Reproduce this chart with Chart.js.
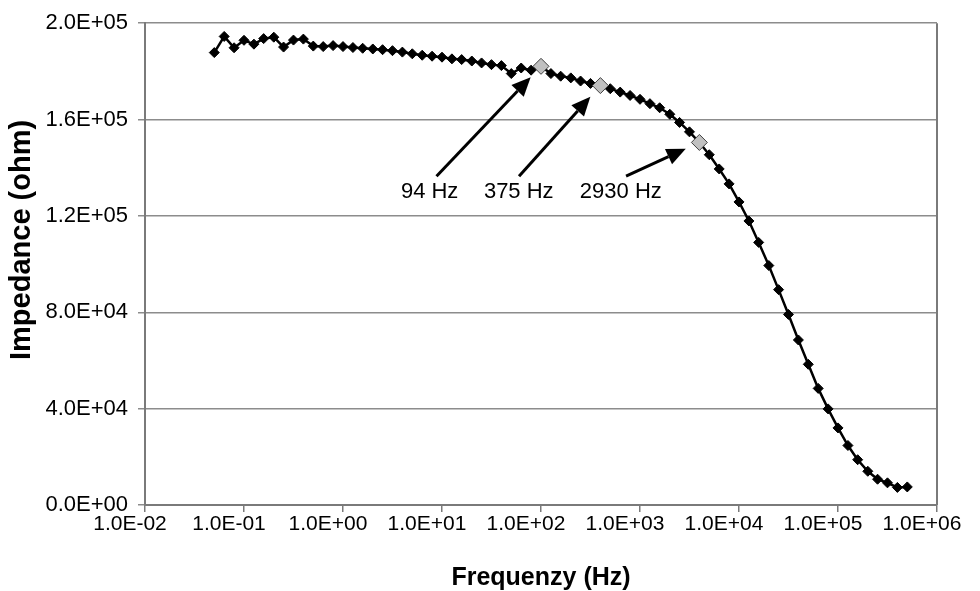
<!DOCTYPE html>
<html>
<head>
<meta charset="utf-8">
<script src="https://cdn.jsdelivr.net/npm/chart.js@4.4.0/dist/chart.umd.min.js"></script>
<style>
  html, body { margin: 0; padding: 0; background: #fff; }
  #wrap { width: 980px; height: 591px; }
</style>
</head>
<body>
<div id="wrap"><canvas id="chart" width="980" height="591"></canvas></div>
<script>
// frequency in Hz, ten points per decade
const frequency = [
  0.0501, 0.0631, 0.0794,
  0.1, 0.126, 0.158, 0.2, 0.251, 0.316, 0.398, 0.501, 0.631, 0.794,
  1, 1.26, 1.58, 2, 2.51, 3.16, 3.98, 5.01, 6.31, 7.94,
  10, 12.6, 15.8, 20, 25.1, 31.6, 39.8, 50.1, 63.1, 79.4,
  100, 126, 158, 200, 251, 316, 398, 501, 631, 794,
  1000, 1260, 1580, 2000, 2510, 3160, 3980, 5010, 6310, 7940,
  10000, 12600, 15800, 20000, 25100, 31600, 39800, 50100, 63100, 79400,
  100000, 126000, 158000, 200000, 251000, 316000, 398000, 501000
];

// impedance in ohm
const impedance = [
  187800, 194500, 189800,
  192900, 191300, 193600, 194200, 190100, 193000, 193400, 190500, 190300, 190700,
  190300, 189900, 189600, 189300, 189000, 188600, 188000, 187300, 186700, 186300,
  185900, 185200, 184900, 184300, 183500, 182800, 182400, 179100, 181400, 180500,
  182100, 179100, 178000, 177300, 176000, 175000, 174100, 172800, 171400, 170000,
  168400, 166600, 164900, 162200, 158800, 154900, 150500, 145400, 139500, 133300,
  125800, 117900, 109000, 99400, 89400, 79100, 68500, 58400, 48400, 39900,
  32000, 24700, 18800, 14000, 10700, 9200, 7300, 7500
];

// highlighted measurement points (grey diamonds)
const highlightFreq = [100, 398, 3980];

// annotation labels: text, where the arrow starts, where the text sits
const noteText = ['94 Hz', '375 Hz', '2930 Hz'];
const noteTailFreq = [8.8, 60, 723];
const noteTextFreq = [7.5, 59.6, 640];
const noteTailZ = 136500;
const noteTextZ = 129900;

const xTicks = [0.01, 0.1, 1, 10, 100, 1000, 10000, 100000, 1000000];
const yTicks = [0, 40000, 80000, 120000, 160000, 200000];

const FONT = "'Liberation Sans', Arial, sans-serif";

function sci(v) {
  const parts = Number(v).toExponential(1).split('e');
  const e = parseInt(parts[1], 10);
  const sign = e < 0 ? '-' : '+';
  return parts[0] + 'E' + sign + String(Math.abs(e)).padStart(2, '0');
}

const mainPoints = frequency.map((f, i) => ({ x: f, y: impedance[i] }));
const greyPoints = highlightFreq.map(f => ({ x: f, y: impedance[frequency.indexOf(f)] }));

// right-hand frame line and the arrow annotations
const extras = {
  id: 'extras',
  afterDatasetsDraw(chart) {
    const ctx = chart.ctx;
    const area = chart.chartArea;
    const xs = chart.scales.x, ys = chart.scales.y;

    ctx.save();
    ctx.strokeStyle = '#7a7a7a';
    ctx.lineWidth = 2;
    ctx.beginPath();
    ctx.moveTo(area.right, area.top);
    ctx.lineTo(area.right, area.bottom);
    ctx.stroke();

    ctx.fillStyle = '#000';
    ctx.strokeStyle = '#000';
    ctx.font = '22px ' + FONT;
    ctx.textAlign = 'center';
    ctx.textBaseline = 'middle';
    highlightFreq.forEach((f, i) => {
      const tx = xs.getPixelForValue(f);
      const ty = ys.getPixelForValue(impedance[frequency.indexOf(f)]);
      const sx = xs.getPixelForValue(noteTailFreq[i]);
      const sy = ys.getPixelForValue(noteTailZ);
      const dx = sx - tx, dy = sy - ty;
      const len = Math.hypot(dx, dy);
      const ux = dx / len, uy = dy / len;
      const tipX = tx + ux * 15, tipY = ty + uy * 15;
      const baseX = tipX + ux * 19, baseY = tipY + uy * 19;
      ctx.lineWidth = 3;
      ctx.beginPath();
      ctx.moveTo(sx, sy);
      ctx.lineTo(baseX, baseY);
      ctx.stroke();
      ctx.beginPath();
      ctx.moveTo(tipX, tipY);
      ctx.lineTo(baseX - uy * 8.5, baseY + ux * 8.5);
      ctx.lineTo(baseX + uy * 8.5, baseY - ux * 8.5);
      ctx.closePath();
      ctx.fill();
      ctx.fillText(noteText[i], xs.getPixelForValue(noteTextFreq[i]), ys.getPixelForValue(noteTextZ));
    });
    ctx.restore();
  }
};

new Chart(document.getElementById('chart'), {
  type: 'line',
  data: {
    datasets: [
      {
        data: greyPoints,
        showLine: false,
        pointStyle: 'rectRot',
        pointRadius: 8,
        pointBackgroundColor: '#c0c0c0',
        pointBorderColor: '#404040',
        pointBorderWidth: 1,
        order: 1
      },
      {
        data: mainPoints,
        borderColor: '#000',
        borderWidth: 2.5,
        tension: 0,
        pointStyle: 'rectRot',
        pointRadius: 5,
        pointBackgroundColor: '#000',
        pointBorderColor: '#000',
        pointBorderWidth: 1,
        order: 2
      }
    ]
  },
  options: {
    responsive: false,
    animation: false,
    layout: { padding: { top: 20, right: 43, left: 0, bottom: 0 } },
    plugins: { legend: { display: false }, tooltip: { enabled: false } },
    scales: {
      x: {
        type: 'logarithmic',
        min: 0.01,
        max: 1000000,
        afterBuildTicks(scale) { scale.ticks = xTicks.map(v => ({ value: v })); },
        afterFit(scale) { scale.height = 86; },
        grid: { drawOnChartArea: false, drawTicks: true, tickLength: 7, color: '#7a7a7a', lineWidth: 1.5 },
        border: { color: '#7a7a7a', width: 2 },
        ticks: {
          callback: v => sci(v),
          autoSkip: false,
          maxRotation: 0,
          padding: 0,
          labelOffset: -15,
          color: '#000',
          font: { family: FONT, size: 21 }
        },
        title: {
          display: true,
          text: 'Frequenzy (Hz)',
          color: '#000',
          font: { family: FONT, size: 25, weight: 'bold', lineHeight: 1.05 },
          padding: { top: 0, bottom: 0 }
        }
      },
      y: {
        min: 0,
        max: 200000,
        afterBuildTicks(scale) { scale.ticks = yTicks.map(v => ({ value: v })); },
        afterFit(scale) { scale.width = 145; },
        grid: { color: '#8c8c8c', lineWidth: 1.5, tickLength: 7 },
        border: { color: '#7a7a7a', width: 2 },
        ticks: {
          callback: v => sci(v),
          padding: 10,
          color: '#000',
          font: { family: FONT, size: 22 }
        },
        title: {
          display: true,
          text: '      Impedance (ohm)',
          color: '#000',
          font: { family: FONT, size: 29, weight: 'bold' },
          padding: { top: 5, bottom: 0 }
        }
      }
    }
  },
  plugins: [extras]
});
</script>
</body>
</html>
